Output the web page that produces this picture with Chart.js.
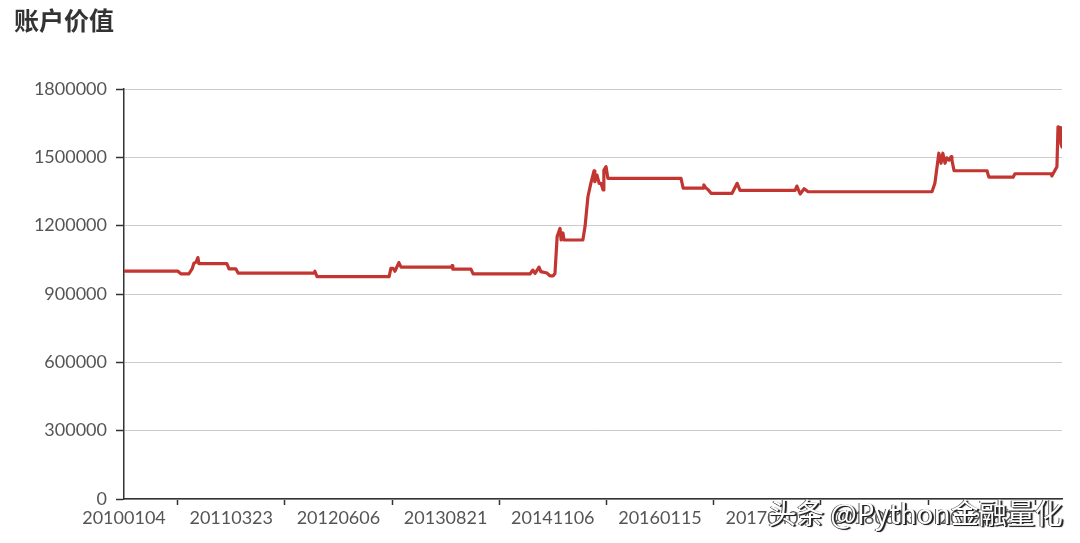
<!DOCTYPE html>
<html>
<head>
<meta charset="utf-8">
<script src="https://cdn.jsdelivr.net/npm/chart.js@4/dist/chart.umd.min.js"></script>
<style>
  html, body { margin: 0; padding: 0; background: #fff; }
  #wrap { position: relative; width: 1080px; height: 543px; }
  #mark {
    position: absolute; left: 768px; top: 492px;
    font: 28px "Noto Sans CJK SC", sans-serif; color: #fff;
    text-shadow: 1px 1px 0 #222, 2px 1px 1px #222, -1px 0 0 #555;
    white-space: nowrap;
  }
</style>
</head>
<body>
<div id="wrap">
  <canvas id="c" width="1080" height="543"></canvas>
  <div id="mark">头条 @Python金融量化</div>
</div>
<script>
'use strict'

// trading day index of each turning point, and account value there
var dayIdx = [0, 149, 157, 179, 188, 193, 199, 204, 207, 284, 290, 309, 315, 525, 527, 533,
  732, 737, 743, 748, 759, 765, 905, 906, 908, 958, 964, 1121, 1129, 1135, 1146, 1151,
  1168, 1176, 1185, 1190, 1196, 1204, 1207, 1212, 1215, 1267, 1273, 1281, 1289, 1298,
  1300, 1306, 1312, 1317, 1323, 1325, 1331, 1336, 1538, 1544, 1599, 1601, 1607, 1613,
  1621, 1679, 1693, 1701, 1853, 1858, 1867, 1878, 1889, 2231, 2239, 2245, 2250, 2256,
  2261, 2267, 2272, 2278, 2284, 2286, 2292, 2383, 2388, 2455, 2460, 2560, 2562, 2571,
  2576, 2579, 2585, 2587, 2590]
var value = [1000000, 1000000, 988000, 988000, 1010000, 1035000, 1040000, 1060000, 1033000,
  1033000, 1010000, 1010000, 992000, 992000, 1000000, 976000,
  976000, 1013000, 1013000, 1000000, 1038000, 1018000, 1018000, 1025000, 1009000, 1009000,
  988000, 988000, 1005000, 990000, 1018000, 998000,
  992000, 980000, 980000, 990000, 1152000, 1188000, 1137000, 1168000, 1137000, 1137000,
  1196000, 1327000, 1386000, 1441000,
  1393000, 1422000, 1386000, 1386000, 1357000, 1444000, 1459000, 1408000, 1408000, 1365000,
  1365000, 1379000, 1365000, 1358000,
  1342000, 1342000, 1386000, 1355000, 1355000, 1374000, 1339000, 1362000, 1349000, 1349000,
  1386000, 1459000, 1518000, 1474000,
  1518000, 1474000, 1498000, 1488000, 1503000, 1488000, 1441000, 1441000, 1413000, 1413000,
  1428000, 1428000, 1418000, 1444000,
  1459000, 1634000, 1630000, 1560000, 1545000]

var dateLabels = ['20100104', '20110323', '20120606', '20130821', '20141106',
  '20160115', '20170407', '20180613', '20190826']
var labelStep = 296
var lastDay = 2590
var yTicks = [0, 300000, 600000, 900000, 1200000, 1500000, 1800000]

var points = dayIdx.map(function (d, i) {
  return { x: d, y: value[i] }
})

var labelFont = { family: 'Lato, "Noto Sans", sans-serif', size: 18 }

new Chart(document.getElementById('c'), {
  type: 'line',
  data: {
    datasets: [{
      label: '账户价值',
      data: points,
      borderColor: '#c23531',
      borderWidth: 3.2,
      borderJoinStyle: 'round',
      borderCapStyle: 'round',
      pointRadius: 0,
      tension: 0,
      fill: false
    }]
  },
  options: {
    responsive: false,
    animation: false,
    layout: { padding: { left: 14, right: 18, top: 0, bottom: 0 } },
    plugins: {
      legend: { display: false },
      tooltip: { enabled: false },
      title: {
        display: true,
        text: '账户价值',
        align: 'start',
        color: '#333',
        font: { family: '"Noto Sans CJK SC", sans-serif', size: 25, weight: 'bold' },
        padding: { top: 5, bottom: 54 }
      }
    },
    scales: {
      x: {
        type: 'linear',
        min: 0,
        max: lastDay,
        afterBuildTicks: function (scale) {
          var t = []
          for (var v = 0; v <= lastDay; v += labelStep / 2) t.push({ value: v })
          scale.ticks = t
        },
        afterFit: function (scale) { scale.height = 44 },
        border: { color: '#333', width: 1.5 },
        grid: {
          drawOnChartArea: false,
          tickLength: 6,
          tickWidth: 1.5,
          tickColor: function (ctx) {
            return (ctx.tick && ctx.tick.value % labelStep !== 0) ? '#333' : 'rgba(0,0,0,0)'
          }
        },
        ticks: {
          autoSkip: false,
          maxRotation: 0,
          padding: 2,
          color: '#555',
          font: labelFont,
          callback: function (v) {
            return v % labelStep === 0 ? dateLabels[v / labelStep] : ''
          }
        }
      },
      y: {
        min: 0,
        max: 1800000,
        afterBuildTicks: function (scale) {
          scale.ticks = yTicks.map(function (v) { return { value: v } })
        },
        afterFit: function (scale) { scale.width = 110 },
        border: { color: '#333', width: 1.5 },
        grid: {
          color: '#ccc',
          tickColor: '#333',
          tickLength: 8,
          tickWidth: 1.5
        },
        ticks: {
          padding: 9,
          color: '#555',
          font: labelFont,
          callback: function (v) { return String(v) }
        }
      }
    }
  }
})
</script>
</body>
</html>
